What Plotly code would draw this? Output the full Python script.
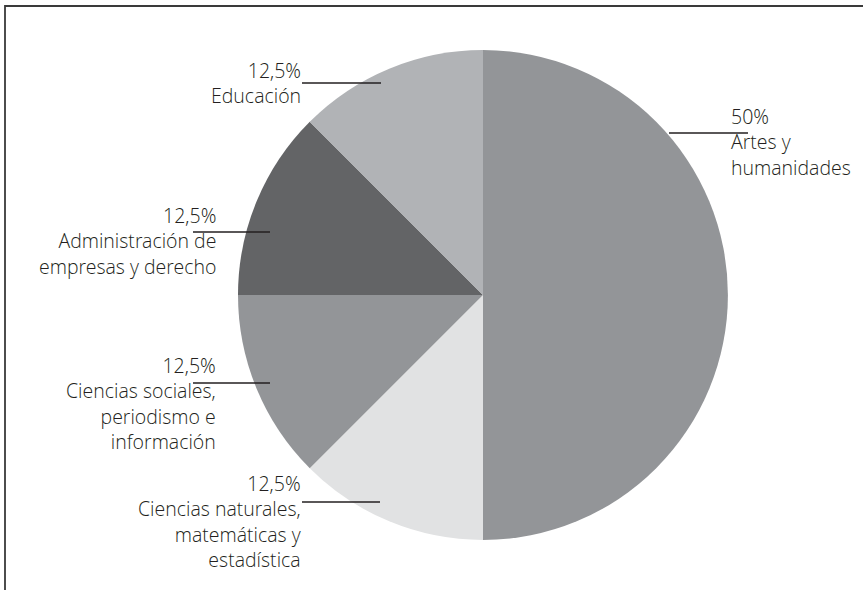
import plotly.graph_objects as go

# ---- data ----
categories = [
    "Artes y\nhumanidades",
    "Ciencias naturales,\nmatemáticas y\nestadística",
    "Ciencias sociales,\nperiodismo e\ninformación",
    "Administración de\nempresas y derecho",
    "Educación",
]
values = [50, 12.5, 12.5, 12.5, 12.5]
pct_labels = ["50%", "12,5%", "12,5%", "12,5%", "12,5%"]
colors = ["#939598", "#e1e2e3", "#939598", "#636466", "#b1b3b6"]

W, H = 863, 590
cx, cy, r = 483, 295, 245

def px(x):
    return x / W

def py(y):
    return 1 - y / H

fig = go.Figure(go.Pie(
    labels=[c.replace("\n", " ") for c in categories],
    values=values,
    sort=False,
    direction="clockwise",
    rotation=0,
    marker=dict(colors=colors, line=dict(width=0)),
    textinfo="none",
    hoverinfo="label+percent",
    showlegend=False,
    domain=dict(x=[px(cx - r), px(cx + r)], y=[py(cy + r), py(cy - r)]),
))

# label layout: (text x, text anchor, block center y, leader x0, x1, leader y)
label_layout = [
    (730, "left", 142, 669, 748, 133),
    (302, "right", 521, 302, 380, 502),
    (217, "right", 403, 193, 270, 383),
    (217, "right", 241.5, 193, 270, 232),
    (302, "right", 83, 302, 381, 83),
]

font = dict(family="Open Sans Light, Open Sans", size=19.5, color="#231f20", weight=300)
annotations = []
shapes = []
for cat, pct, (tx, anchor, ty, lx0, lx1, ly) in zip(categories, pct_labels, label_layout):
    text = "<br>".join([pct] + cat.split("\n"))
    annotations.append(dict(
        x=px(tx), y=py(ty), xref="paper", yref="paper",
        text=text, showarrow=False, xanchor=anchor, yanchor="middle",
        align=anchor, font=font, borderpad=0,
    ))
    shapes.append(dict(type="line", xref="paper", yref="paper",
                       x0=px(lx0), x1=px(lx1), y0=py(ly), y1=py(ly),
                       line=dict(color="#231f20", width=1.3)))

# frame
shapes.append(dict(type="rect", xref="paper", yref="paper",
                   x0=px(5), x1=1.02, y0=-0.02, y1=py(6),
                   line=dict(color="#3a3a3a", width=1.8)))

fig.update_layout(
    width=W, height=H,
    margin=dict(l=0, r=0, t=0, b=0),
    paper_bgcolor="white", plot_bgcolor="white",
    annotations=annotations, shapes=shapes,
)

fig.write_html("out.html", config={"displayModeBar": False},
               post_script="document.body.style.margin='0px';")
